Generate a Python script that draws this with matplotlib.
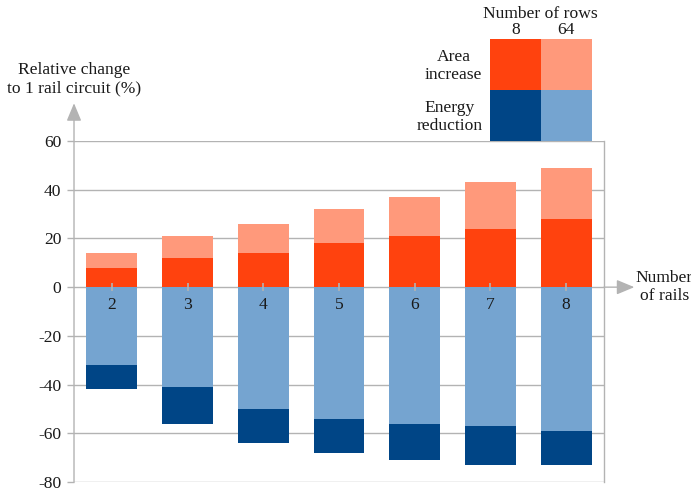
import matplotlib
matplotlib.use("Agg")
import matplotlib.pyplot as plt
from matplotlib.patches import Rectangle

plt.rcParams['font.family'] = ['Liberation Serif', 'DejaVu Serif']
plt.rcParams['font.size'] = 12.6

# data (% change relative to 1 rail circuit)
rails = [2, 3, 4, 5, 6, 7, 8]
area_8 = [8, 12, 14, 18, 21, 24, 28]
area_64 = [14, 21, 26, 32, 37, 43, 49]
energy_8 = [-42, -56, -64, -68, -71, -73, -73]
energy_64 = [-32, -41, -50, -54, -56, -57, -59]
yticks = [-80, -60, -40, -20, 0, 20, 40, 60]

c_area8 = '#ff420e'
c_area64 = '#ff997b'
c_en8 = '#004586'
c_en64 = '#75a4d0'
gray = '#b3b3b3'
txt = '#1a1a1a'

fig = plt.figure(figsize=(6.91, 4.91), dpi=100)
ax = fig.add_axes([0.1071, 0.0183, 0.767, 0.6945])
ax.set_axisbelow(True)

w = 0.67
# overlapped bars: bigger one behind
ax.bar(rails, area_64, width=w, color=c_area64, zorder=2)
ax.bar(rails, area_8, width=w, color=c_area8, zorder=2)
ax.bar(rails, energy_8, width=w, color=c_en8, zorder=2)
ax.bar(rails, energy_64, width=w, color=c_en64, zorder=2)

ax.set_xlim(1.5, 8.5)
ax.set_ylim(-80, 60)
ax.set_yticks(yticks)
ax.set_yticklabels([str(t) for t in yticks])
ax.set_xticks([])
ax.grid(axis='y', color=gray, linewidth=1.0)
ax.tick_params(axis='y', length=5, width=1.0, color=gray, labelcolor=txt, pad=4)

for s in ['top', 'bottom', 'left']:
    ax.spines[s].set_visible(False)
ax.spines['right'].set_color(gray)
ax.spines['right'].set_linewidth(1.0)

# category ticks and labels sitting on the zero line
ax.plot(rails, [0] * len(rails), ls='none', marker='|', ms=6, mew=1.2,
        color=gray, zorder=3)
for r in rails:
    ax.annotate(str(r), xy=(r, 0), xytext=(0, -13), textcoords='offset points',
                ha='center', va='center', color=txt, zorder=5)

# axis arrows
arrow = dict(arrowstyle='-|>,head_length=0.6,head_width=0.25', color=gray,
             lw=1.0, mutation_scale=18, shrinkA=0, shrinkB=0)
ax.annotate('', xy=(0, 75.5), xytext=(0, -80), xycoords=ax.get_yaxis_transform(),
            textcoords=ax.get_yaxis_transform(), arrowprops=arrow,
            annotation_clip=False)
ax.annotate('', xy=(8.9, 0), xytext=(8.5, 0), arrowprops=arrow,
            annotation_clip=False)

ax.text(1.5, 85.4, 'Relative change\nto 1 rail circuit (%)', ha='center',
        va='center', multialignment='center', color=txt, clip_on=False)
ax.text(9.3, 0, 'Number\nof rails', ha='center', va='center',
        multialignment='center', color=txt, clip_on=False)

# legend grid placed above the plot, aligned with the last bar
cw = w
ch = 21.0
x0 = 8 + w / 2 - 2 * cw
cells = [(0, 1, c_area8), (1, 1, c_area64), (0, 0, c_en8), (1, 0, c_en64)]
for col, row, c in cells:
    ax.add_patch(Rectangle((x0 + col * cw, 60 + row * ch), cw, ch,
                           facecolor=c, edgecolor='none', clip_on=False, zorder=4))
ax.text(x0 + cw / 2, 105.6, '8', ha='center', va='center', color=txt, clip_on=False)
ax.text(x0 + 1.5 * cw, 105.6, '64', ha='center', va='center', color=txt, clip_on=False)
ax.text(x0 + cw, 112.2, 'Number of rows', ha='center', va='center', color=txt,
        clip_on=False)
ax.text(6.89, 90.7, 'Area\nincrease', ha='right', va='center',
        multialignment='center', color=txt, clip_on=False)
ax.text(6.9, 69.8, 'Energy\nreduction', ha='right', va='center',
        multialignment='center', color=txt, clip_on=False)

fig.savefig('out.png', dpi=100)
